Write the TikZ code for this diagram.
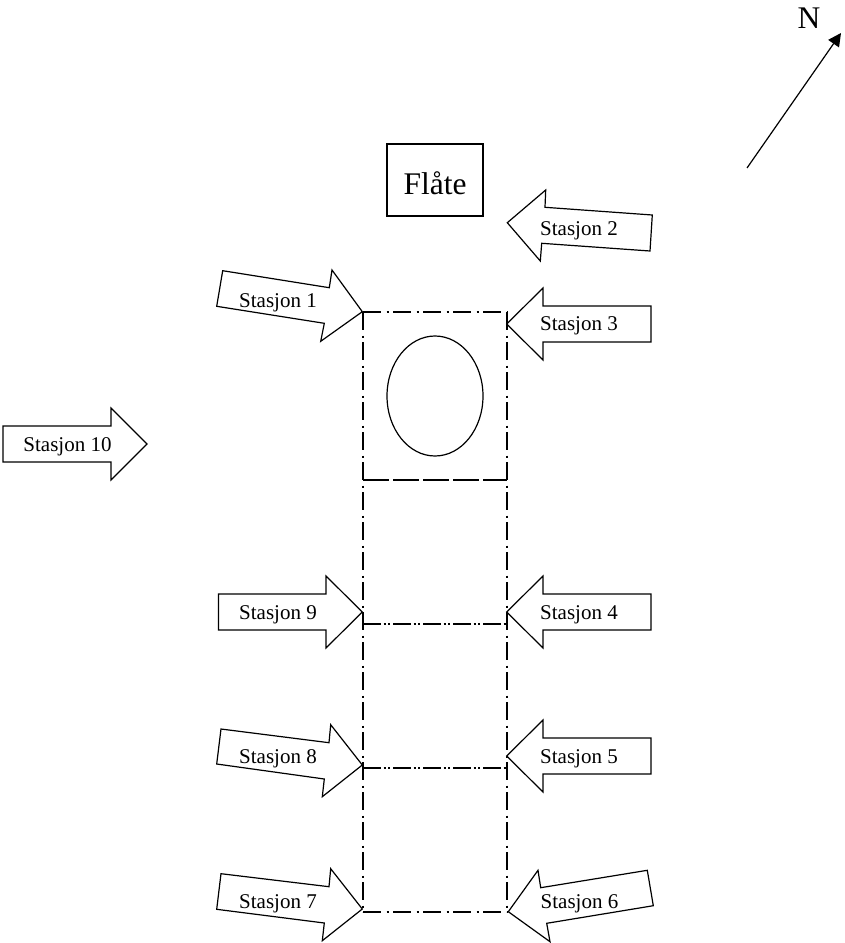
\documentclass[tikz,border=0pt]{standalone}
\usepackage{fontspec}
\setmainfont{Liberation Serif}
\usetikzlibrary{shapes.geometric,arrows.meta}
\tikzset{
  x=1pt,y=-1pt,
  block/.style={draw=black,line width=1.2pt,fill=white,line join=miter},
  lab/.style={font=\fontsize{21}{23}\selectfont,inner sep=0pt,anchor=center},
  dashdot/.style={line width=1.7pt,dash pattern=on 18pt off 5.5pt on 2pt off 4.5pt},
  dashdotdot/.style={line width=1.7pt,dash pattern=on 18pt off 2.5pt on 2pt off 2.5pt on 2pt off 3pt},
  longdash/.style={line width=1.7pt,dash pattern=on 26pt off 4pt}
}
\begin{document}
\begin{tikzpicture}
\useasboundingbox (0,0) rectangle (845,943);
% corners of the dash-dotted frame
\coordinate (a1) at (363,312); \coordinate (b1) at (507,312);
\coordinate (a2) at (363,480); \coordinate (b2) at (507,480);
\coordinate (a3) at (363,624); \coordinate (b3) at (507,624);
\coordinate (a4) at (363,768); \coordinate (b4) at (507,768);
\coordinate (a5) at (363,912); \coordinate (b5) at (507,912);
\draw[dashdot] (a1) -- (b1);
\draw[dashdot] (a1) -- (a5);
\draw[dashdot] (b1) -- (b5);
\draw[longdash] (a2) -- (b2);
\draw[dashdotdot] (a3) -- (b3);
\draw[dashdotdot] (a4) -- (b4);
\draw[dashdot] (a5) -- (b5);
% raft and ring
\node[draw=black,line width=1.2pt,minimum width=96pt,minimum height=72pt,inner sep=0pt] (flate) at (435,180) {};
\node[font=\fontsize{31.5}{33}\selectfont,inner sep=0pt] (flatetext) at (435,183) {Flåte};
\node[draw=black,line width=1.2pt,ellipse,minimum width=96pt,minimum height=120pt,inner sep=0pt] (ring) at (435,396) {};
% block arrows
\draw[block] (222.7,270.7)--(329.3,287.7)--(332,270)--(362.3,311.7)--(320.7,341.3)--(324.3,323.3)--(216.7,306.3)--cycle;
\draw[block] (507.3,222.7)--(545.7,190)--(545,207.3)--(652.3,215)--(650,251)--(541.7,243.3)--(540.3,261)--cycle;
\draw[block] (506.7,324)--(543,288)--(543,306)--(651,306)--(651,342)--(543,342)--(543,360)--cycle;
\draw[block] (506.7,612)--(543,576)--(543,594)--(651,594)--(651,630)--(543,630)--(543,648)--cycle;
\draw[block] (506.7,756)--(543,720)--(543,738)--(651,738)--(651,774)--(543,774)--(543,792)--cycle;
\draw[block] (508.3,911.7)--(538,870.3)--(540.7,887.7)--(647.3,870.3)--(653.3,905.7)--(546.7,923.3)--(550,941.7)--cycle;
\draw[block] (221,873.7)--(329,886.7)--(330.7,868.7)--(362.3,909)--(322.3,940.7)--(324.3,923)--(216.7,909.3)--cycle;
\draw[block] (221,729)--(329,742.7)--(330.7,724.7)--(362.3,765)--(322.3,796.7)--(324.3,779)--(216.7,764)--cycle;
\draw[block] (218.5,594)--(326,594)--(326,576)--(362.3,612)--(326,648)--(326,630)--(218.5,630)--cycle;
\draw[block] (3,426)--(111,426)--(111,408)--(147,444)--(111,480)--(111,462)--(3,462)--cycle;
% labels
\node[lab] (s1) at (278,303) {Stasjon 1};
\node[lab] (s2) at (579,231) {Stasjon 2};
\node[lab] (s3) at (579,326) {Stasjon 3};
\node[lab] (s4) at (579,615) {Stasjon 4};
\node[lab] (s5) at (579,759) {Stasjon 5};
\node[lab] (s6) at (579.5,904) {Stasjon 6};
\node[lab] (s7) at (278,904) {Stasjon 7};
\node[lab] (s8) at (278,759) {Stasjon 8};
\node[lab] (s9) at (278,615) {Stasjon 9};
\node[lab] (s10) at (67.5,447) {Stasjon 10};
% north arrow
\node[font=\fontsize{31.5}{33}\selectfont,inner sep=0pt] (north) at (809,18) {N};
\coordinate (nstart) at (747,168);
\coordinate (ntip) at (841,33);
\draw[line width=1.2pt,-{Triangle[length=13pt,width=13pt]}] (nstart) -- (ntip);
\end{tikzpicture}
\end{document}
